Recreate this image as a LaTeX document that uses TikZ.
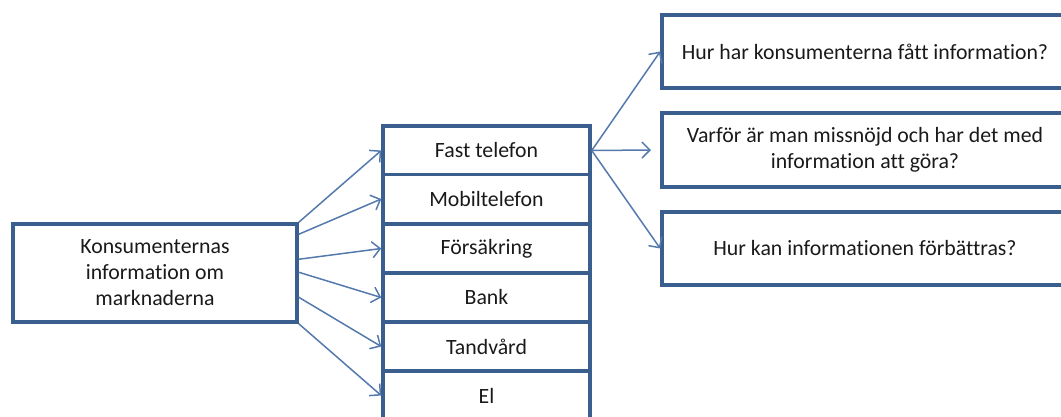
\documentclass[tikz,border=0pt]{standalone}
\usepackage{fontspec}
\setmainfont{Carlito}[Ligatures=NoCommon]
\usetikzlibrary{arrows.meta}
\definecolor{boxline}{HTML}{3A5F8E}
\definecolor{arrowline}{HTML}{5479AC}
\definecolor{textgray}{HTML}{1A1A1A}
\tikzset{
  box/.style={draw=boxline, line width=3.5pt, fill=white, inner sep=0pt,
    text=textgray, font=\fontsize{21.8}{26}\selectfont, align=center},
  link/.style={draw=arrowline, line width=1.5pt,
    -{Straight Barb[length=8pt,width=16pt]}},
}
\begin{document}
\begin{tikzpicture}[x=1pt,y=-1pt]
\useasboundingbox (0,0) rectangle (1061,416);
\clip (0,0) rectangle (1061,416);

% source box
\node[box, minimum width=284pt, minimum height=98pt] (kons) at (155,273)
  {Konsumenternas\\information om\\marknaderna};

% market column
\foreach \name/\label/\yc in {fast/Fast telefon/150.5, mobil/Mobiltelefon/199,
    fors/Försäkring/248.5, bank/Bank/297.5, tand/Tandvård/346.5, el/El/395.5}
  \node[box, minimum width=207pt, minimum height=49pt] (\name) at (486.5,\yc) {\label};

% questions
\node[box, minimum width=406pt, minimum height=73pt] (q1) at (865,51.5)
  {Hur har konsumenterna fått information?};
\node[box, minimum width=406pt, minimum height=74pt] (q2) at (865,150)
  {Varför är man missnöjd och har det med\\information att göra?};
\node[box, minimum width=406pt, minimum height=73pt] (q3) at (865,248.5)
  {Hur kan informationen förbättras?};

% connectors from the source box
\draw[link] (kons.north east) -- (fast.west);
\draw[link] ([yshift=-12pt]kons.north east) -- (mobil.west);
\draw[link] ([yshift=-37pt]kons.north east) -- (fors.west);
\draw[link] ([yshift=-50pt]kons.north east) -- (bank.west);
\draw[link] ([yshift=-75pt]kons.north east) -- (tand.west);
\draw[link] (kons.south east) -- (el.west);

% connectors to the questions
\coordinate (q2tip) at (651,150);
\draw[link] (fast.east) -- (q1.west);
\draw[link] (fast.east) -- (q2tip);
\draw[link] (fast.east) -- (q3.west);
\end{tikzpicture}
\end{document}
